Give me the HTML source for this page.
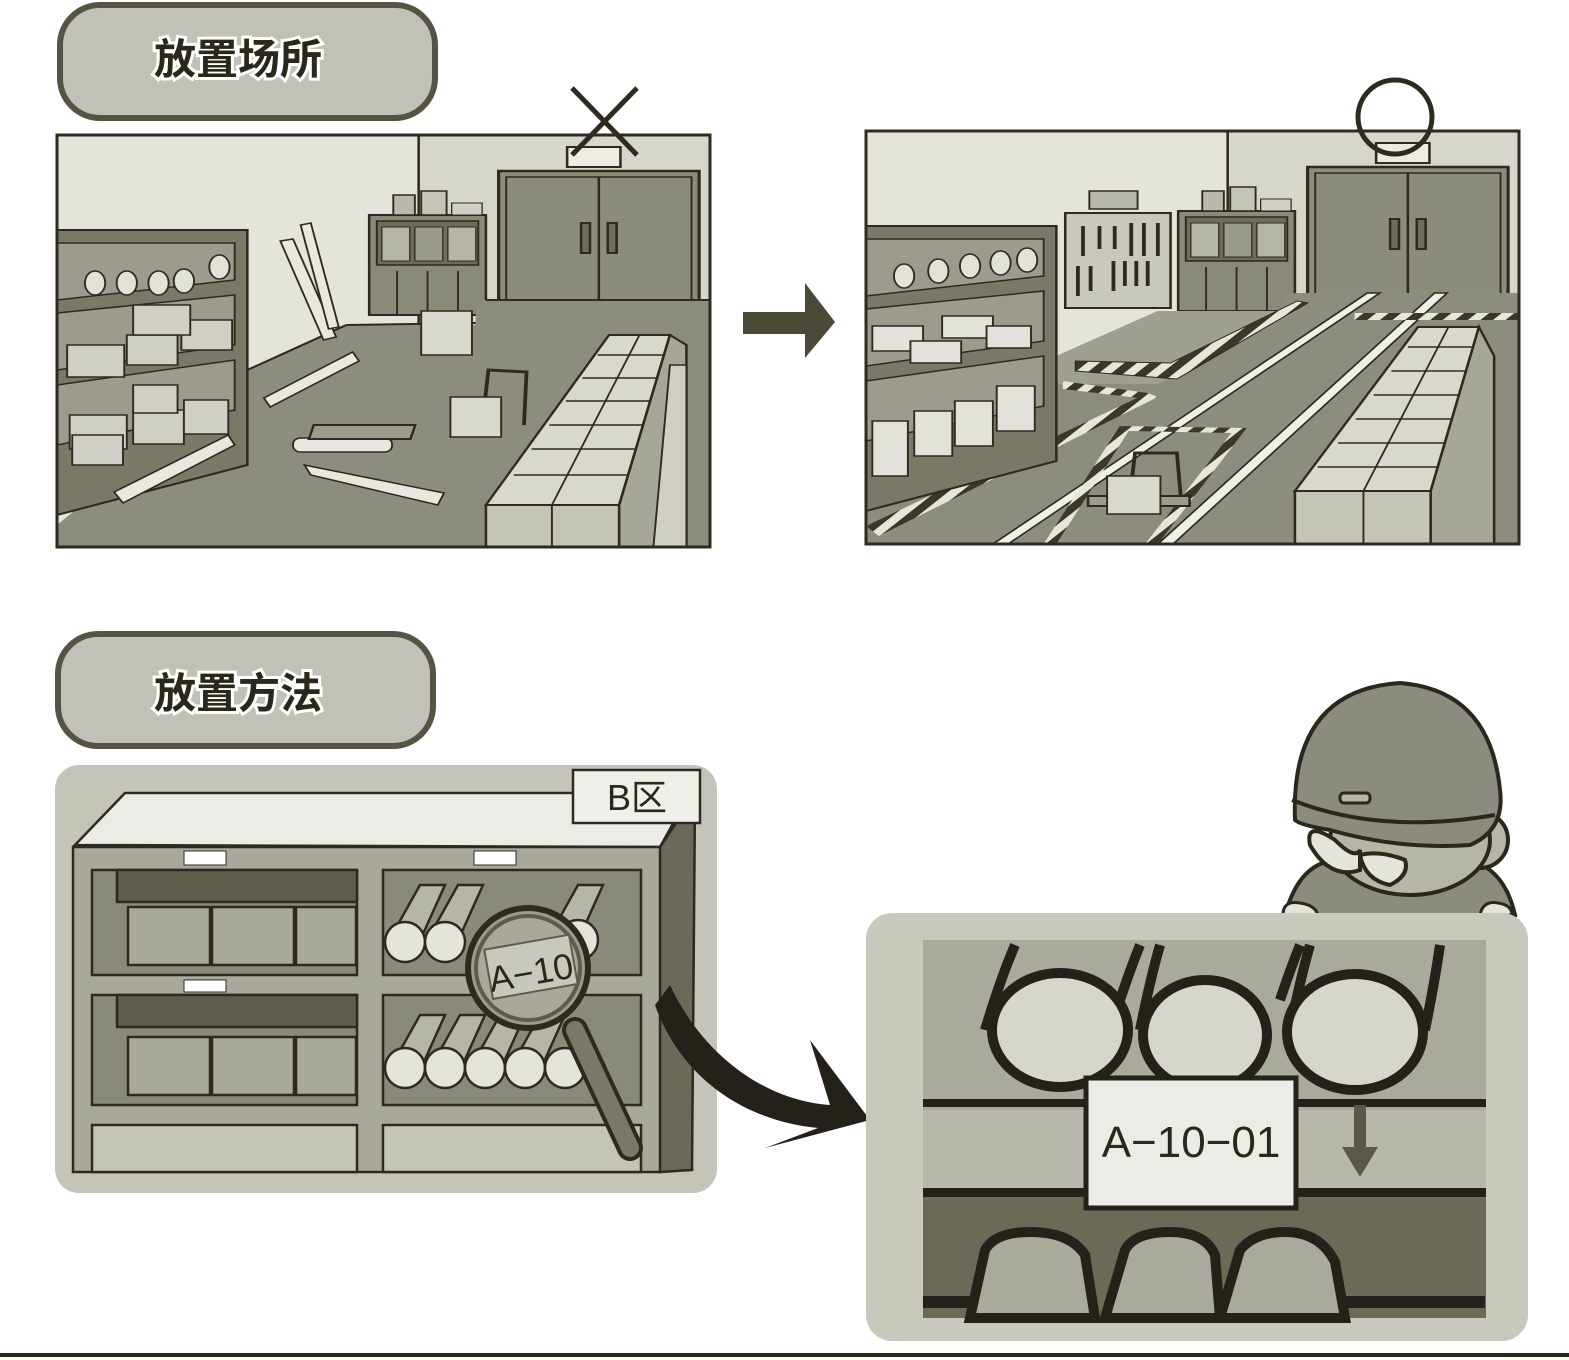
<!DOCTYPE html>
<html><head><meta charset="utf-8"><style>
html,body{margin:0;padding:0;background:#fff;}
svg{display:block}
.t{font-family:"Liberation Sans","Noto Sans CJK SC",sans-serif;}
</style></head><body>
<svg width="1569" height="1360" viewBox="0 0 1569 1360" xmlns="http://www.w3.org/2000/svg">
<defs>
<clipPath id="pc"><rect x="0" y="0" width="653" height="413"/></clipPath>
<pattern id="stripe" width="14" height="14" patternUnits="userSpaceOnUse" patternTransform="rotate(45)">
<rect width="14" height="14" fill="#e6e6dc"/><rect width="7" height="14" fill="#3a3828"/>
</pattern>
<g id="scene">
  <rect x="0" y="0" width="653" height="412" fill="#e4e4dc"/>
  <rect x="285" y="0" width="368" height="412" fill="#d6d6cd"/>
  <line x1="285" y1="0" x2="285" y2="190" stroke="#2e2b1e" stroke-width="2"/>
  <rect x="348" y="36" width="158" height="130" fill="#8c8c7d" stroke="#2e2b1e" stroke-width="2.5"/>
  <rect x="354" y="42" width="146" height="124" fill="#8c8c7d" stroke="#2e2b1e" stroke-width="1.5"/>
  <line x1="427" y1="42" x2="427" y2="166" stroke="#2e2b1e" stroke-width="2"/>
  <rect x="413" y="88" width="7" height="30" fill="#6e6d5c" stroke="#2e2b1e" stroke-width="2"/>
  <rect x="434" y="88" width="7" height="30" fill="#6e6d5c" stroke="#2e2b1e" stroke-width="2"/>
  <rect x="402" y="12" width="42" height="20" fill="#ececE4" stroke="#2e2b1e" stroke-width="2"/>
  <rect x="246" y="80" width="92" height="100" fill="#8a8a7b" stroke="#2e2b1e" stroke-width="2"/>
  <rect x="252" y="86" width="80" height="44" fill="#6e6d5c" stroke="#2e2b1e" stroke-width="1.5"/>
  <rect x="256" y="92" width="22" height="34" fill="#b4b4a8" stroke="#2e2b1e" stroke-width="1"/>
  <rect x="282" y="92" width="22" height="34" fill="#9a9a8c" stroke="#2e2b1e" stroke-width="1"/>
  <rect x="308" y="92" width="22" height="34" fill="#b4b4a8" stroke="#2e2b1e" stroke-width="1"/>
  <line x1="268" y1="136" x2="268" y2="180" stroke="#2e2b1e" stroke-width="1.5"/>
  <line x1="292" y1="136" x2="292" y2="180" stroke="#2e2b1e" stroke-width="1.5"/>
  <line x1="316" y1="136" x2="316" y2="180" stroke="#2e2b1e" stroke-width="1.5"/>
  <rect x="265" y="60" width="17" height="20" fill="#b8b8ac" stroke="#2e2b1e" stroke-width="1.5"/>
  <rect x="287" y="56" width="20" height="24" fill="#c4c4b8" stroke="#2e2b1e" stroke-width="1.5"/>
  <rect x="311" y="68" width="24" height="12" fill="#d0d0c6" stroke="#2e2b1e" stroke-width="1"/>
</g>
<g id="shelf">
  <polygon points="0,95 150,95 150,330 0,380" fill="#7a7968" stroke="#2e2b1e" stroke-width="2"/>
  <polygon points="0,108 140,108 140,145 0,165" fill="#9c9b8d" stroke="#2e2b1e" stroke-width="1.5"/>
  <polygon points="0,178 140,160 140,210 0,235" fill="#9c9b8d" stroke="#2e2b1e" stroke-width="1.5"/>
  <polygon points="0,250 140,225 140,275 0,310" fill="#9c9b8d" stroke="#2e2b1e" stroke-width="1.5"/>
</g>
</defs>

<rect x="60" y="5" width="375" height="113" rx="40" fill="#c1c1b8" stroke="#555443" stroke-width="6"/>
<text x="238" y="74" text-anchor="middle" class="t" font-size="42" font-weight="bold" fill="#2a281a" stroke="#fff" stroke-width="6" paint-order="stroke">放置场所</text>

<!-- Panel 1 -->
<g transform="translate(57,135)">
 <g clip-path="url(#pc)"><g transform="scale(1.269,1)">
  <use href="#scene"/>
  <polygon points="150,235 228,190 330,190 330,165 653,165 653,412 0,412 0,390" fill="#8d8d7f"/>
  <line x1="150" y1="235" x2="228" y2="190" stroke="#2e2b1e" stroke-width="2"/>
  <line x1="228" y1="190" x2="330" y2="188" stroke="#2e2b1e" stroke-width="2"/>
  <line x1="338" y1="165" x2="653" y2="165" stroke="#2e2b1e" stroke-width="2"/>
  <use href="#shelf"/>
  <g fill="#e2e2da" stroke="#2e2b1e" stroke-width="1.5">
   <ellipse cx="30" cy="148" rx="8" ry="12"/><ellipse cx="55" cy="148" rx="8" ry="12"/><ellipse cx="80" cy="148" rx="8" ry="12"/><ellipse cx="100" cy="146" rx="8" ry="12"/><ellipse cx="128" cy="132" rx="8" ry="12"/>
  </g>
  <g fill="#cfcfc5" stroke="#2e2b1e" stroke-width="1.5">
   <rect x="8" y="210" width="45" height="32"/><rect x="55" y="200" width="40" height="30"/><rect x="98" y="185" width="40" height="30"/><rect x="60" y="170" width="45" height="30"/>
   <rect x="10" y="280" width="45" height="34"/><rect x="60" y="275" width="40" height="34"/><rect x="100" y="265" width="35" height="34"/><rect x="12" y="300" width="40" height="30"/><rect x="60" y="250" width="35" height="28"/>
  </g>
  <g fill="#e8e8e0" stroke="#2e2b1e" stroke-width="1.5">
   <polygon points="176,106 186,104 220,202 210,205"/><polygon points="192,90 200,88 222,192 214,194"/>
   <polygon points="163,263 233,217 238,226 168,272"/>
   <rect x="186" y="303" width="78" height="14" rx="6"/>
   <polygon points="195,330 200,340 300,370 305,358"/>
   <polygon points="45,357 52,368 140,310 135,300"/>
  </g>
  <rect x="287" y="176" width="40" height="44" fill="#d8d8ce" stroke="#2e2b1e" stroke-width="1.5"/>
  <rect x="280" y="290" width="80" height="14" fill="#9c9b8d" stroke="#2e2b1e" stroke-width="2" transform="skewX(-15)"/>
  <path d="M335 290 L340 235 L370 237 L368 290" fill="none" stroke="#2e2b1e" stroke-width="3"/>
  <rect x="310" y="262" width="40" height="40" fill="#d8d8ce" stroke="#2e2b1e" stroke-width="1.5"/>
  <polygon points="338,370 435,200 483,200 443,370" fill="#d8d8ce" stroke="#2e2b1e" stroke-width="2"/>
  <rect x="338" y="370" width="105" height="42" fill="#c4c4b8" stroke="#2e2b1e" stroke-width="2"/>
  <polygon points="443,370 483,200 496,210 496,412 443,412" fill="#a6a699" stroke="#2e2b1e" stroke-width="2"/>
  <polygon points="483,230 496,230 496,412 470,412" fill="#cfcfc5" stroke="#2e2b1e" stroke-width="1.5"/>
  <g stroke="#2e2b1e" stroke-width="1.5">
   <line x1="390" y1="370" x2="459" y2="200"/><line x1="390" y1="370" x2="390" y2="412"/>
   <line x1="426" y1="220" x2="478" y2="220"/><line x1="414" y1="243" x2="473" y2="243"/><line x1="401" y1="266" x2="467" y2="266"/><line x1="388" y1="290" x2="462" y2="290"/><line x1="374" y1="314" x2="456" y2="314"/><line x1="360" y1="340" x2="450" y2="340"/>
  </g>
 </g></g>
  <rect x="0" y="0" width="653" height="412" fill="none" stroke="#2e2b1e" stroke-width="3"/>
</g>
<line x1="572" y1="88" x2="637" y2="155" stroke="#2e2b1e" stroke-width="5"/>
<line x1="637" y1="88" x2="572" y2="155" stroke="#2e2b1e" stroke-width="5"/>

<rect x="743" y="312" width="64" height="22" fill="#4a4837"/>
<polygon points="805,283 835,322 805,358" fill="#4a4837"/>

<!-- Panel 2 -->
<g transform="translate(866,131)">
 <g clip-path="url(#pc)"><g transform="scale(1.269,1)">
  <use href="#scene"/>
  <polygon points="150,225 230,180 330,180 330,162 653,162 653,413 0,413 0,380" fill="#8d8d7f"/>
  <polygon points="150,225 230,180 340,180 230,253 150,253" fill="#a0a092" />
  <polygon points="165,230 240,232 340,170 348,172 245,248 165,240" fill="url(#stripe)" stroke="#2e2b1e" stroke-width="1"/>
  <polygon points="155,250 222,262 222,268 155,258" fill="url(#stripe)"/>
  <polygon points="0,395 222,262 230,266 10,405" fill="url(#stripe)"/>
  <polygon points="100,413 395,162 405,162 112,413" fill="#f0f0ea" stroke="#2e2b1e" stroke-width="1.5"/>
  <polygon points="230,413 448,162 458,162 242,413" fill="#f0f0ea" stroke="#2e2b1e" stroke-width="1.5"/>
  <polygon points="200,295 300,297 230,413 220,413 288,302 207,300" fill="url(#stripe)"/>
  <polygon points="200,295 207,300 150,413 140,413" fill="url(#stripe)"/>
  <rect x="385" y="182" width="165" height="7" fill="url(#stripe)"/>
  <use href="#shelf"/>
  <g fill="#e2e2da" stroke="#2e2b1e" stroke-width="1.5">
   <ellipse cx="30" cy="145" rx="8" ry="12"/><ellipse cx="57" cy="140" rx="8" ry="12"/><ellipse cx="82" cy="135" rx="8" ry="12"/><ellipse cx="106" cy="132" rx="8" ry="12"/><ellipse cx="127" cy="129" rx="8" ry="12"/>
   <rect x="5" y="195" width="40" height="25"/><rect x="35" y="210" width="40" height="22"/><rect x="60" y="185" width="40" height="22"/><rect x="95" y="195" width="35" height="22"/>
   <rect x="5" y="290" width="28" height="55"/><rect x="38" y="280" width="30" height="45"/><rect x="70" y="270" width="30" height="45"/><rect x="103" y="255" width="30" height="45"/>
  </g>
  <rect x="176" y="60" width="38" height="18" fill="#b8b8ac" stroke="#2e2b1e" stroke-width="1.5"/>
  <rect x="157" y="82" width="83" height="95" fill="#c8c8be" stroke="#2e2b1e" stroke-width="2"/>
  <g stroke="#2e2b1e" stroke-width="3">
   <line x1="171" y1="95" x2="171" y2="125"/><line x1="184" y1="95" x2="184" y2="118"/><line x1="196" y1="95" x2="196" y2="118"/><line x1="209" y1="92" x2="209" y2="125"/><line x1="219" y1="92" x2="219" y2="125"/><line x1="230" y1="92" x2="230" y2="125"/>
   <line x1="167" y1="135" x2="167" y2="165"/><line x1="177" y1="135" x2="177" y2="160"/><line x1="195" y1="130" x2="195" y2="160"/><line x1="204" y1="130" x2="204" y2="155"/><line x1="213" y1="130" x2="213" y2="155"/><line x1="222" y1="130" x2="222" y2="155"/>
  </g>
  <path d="M208 365 L212 322 L245 322 L248 365" fill="none" stroke="#2e2b1e" stroke-width="3"/>
  <rect x="175" y="365" width="80" height="10" fill="#9c9b8d" stroke="#2e2b1e" stroke-width="2"/>
  <rect x="190" y="345" width="42" height="38" fill="#d8d8ce" stroke="#2e2b1e" stroke-width="1.5"/>
  <polygon points="338,360 435,196 483,196 445,360" fill="#d8d8ce" stroke="#2e2b1e" stroke-width="2"/>
  <rect x="338" y="360" width="107" height="53" fill="#c4c4b8" stroke="#2e2b1e" stroke-width="2"/>
  <polygon points="445,360 483,196 495,225 495,413 445,413" fill="#a6a699" stroke="#2e2b1e" stroke-width="2"/>
  <g stroke="#2e2b1e" stroke-width="1.5">
   <line x1="392" y1="360" x2="459" y2="196"/><line x1="392" y1="360" x2="392" y2="413"/>
   <line x1="427" y1="216" x2="479" y2="216"/><line x1="414" y1="240" x2="473" y2="240"/><line x1="400" y1="264" x2="467" y2="264"/><line x1="386" y1="288" x2="461" y2="288"/><line x1="372" y1="312" x2="456" y2="312"/><line x1="356" y1="336" x2="451" y2="336"/>
  </g>
 </g></g>
  <rect x="0" y="0" width="653" height="413" fill="none" stroke="#2e2b1e" stroke-width="3"/>
</g>
<circle cx="1395" cy="117" r="37" fill="none" stroke="#2e2b1e" stroke-width="5"/>

<rect x="58" y="634" width="375" height="112" rx="40" fill="#c1c1b8" stroke="#555443" stroke-width="6"/>
<text x="238" y="708" text-anchor="middle" class="t" font-size="42" font-weight="bold" fill="#2a281a" stroke="#fff" stroke-width="6" paint-order="stroke">放置方法</text>

<!-- Bottom-left panel -->
<rect x="55" y="765" width="662" height="428" rx="24" fill="#c4c4b9"/>
<g stroke="#2e2b1e" stroke-width="2.5">
  <polygon points="75,845 125,793 690,793 660,847" fill="#ececE6"/>
  <polygon points="660,847 695,795 692,1170 660,1172" fill="#6b6a58"/>
  <rect x="73" y="847" width="587" height="325" fill="#a8a89b"/>
  <rect x="92" y="870" width="265" height="105" fill="#8a8a7b"/>
  <rect x="383" y="870" width="258" height="105" fill="#8a8a7b"/>
  <rect x="92" y="995" width="265" height="110" fill="#8a8a7b"/>
  <rect x="383" y="995" width="258" height="110" fill="#8a8a7b"/>
  <rect x="92" y="1125" width="265" height="47" fill="#c4c4b9"/>
  <rect x="383" y="1125" width="258" height="47" fill="#c4c4b9"/>
  <rect x="117" y="870" width="240" height="32" fill="#5e5d4c"/>
  <rect x="117" y="995" width="240" height="32" fill="#5e5d4c"/>
  <g fill="#a8a89b">
    <rect x="128" y="907" width="82" height="58"/><rect x="212" y="907" width="82" height="58"/><rect x="296" y="907" width="60" height="58"/>
    <rect x="128" y="1037" width="82" height="58"/><rect x="212" y="1037" width="82" height="58"/><rect x="296" y="1037" width="60" height="58"/>
  </g>
  <g fill="#b5b5a8">
    <polygon points="392,935 420,885 445,885 418,945"/><polygon points="430,935 458,885 483,885 456,945"/><polygon points="550,935 578,885 603,885 576,945"/>
    <polygon points="392,1065 420,1015 445,1015 418,1075"/><polygon points="432,1065 460,1015 485,1015 458,1075"/><polygon points="472,1065 500,1015 525,1015 498,1075"/><polygon points="512,1065 540,1015 565,1015 538,1075"/>
  </g>
  <g fill="#e4e4dc">
    <circle cx="405" cy="942" r="20"/><circle cx="445" cy="942" r="20"/><circle cx="578" cy="940" r="20"/>
    <circle cx="405" cy="1068" r="20"/><circle cx="445" cy="1068" r="20"/><circle cx="485" cy="1068" r="20"/><circle cx="525" cy="1068" r="20"/><circle cx="565" cy="1068" r="20"/>
  </g>
</g>
<rect x="184" y="851" width="42" height="14" fill="#fff" stroke="#2e2b1e" stroke-width="1"/>
<rect x="474" y="851" width="42" height="14" fill="#fff" stroke="#2e2b1e" stroke-width="1"/>
<rect x="184" y="980" width="42" height="12" fill="#fff" stroke="#2e2b1e" stroke-width="1"/>
<rect x="573" y="770" width="127" height="53" fill="#f0f0ea" stroke="#2e2b1e" stroke-width="2.5"/>
<text x="637" y="810" text-anchor="middle" class="t" font-size="36" fill="#2a281a">B区</text>
<line x1="575" y1="1030" x2="630" y2="1148" stroke="#2e2b1e" stroke-width="26" stroke-linecap="round"/>
<line x1="575" y1="1030" x2="630" y2="1148" stroke="#7a7968" stroke-width="18" stroke-linecap="round"/>
<circle cx="528" cy="968" r="60" fill="#9c9b8e" stroke="#2e2b1e" stroke-width="6"/>
<circle cx="528" cy="968" r="52" fill="#a9a89b" stroke="#5e5d4c" stroke-width="4"/>
<rect x="488" y="942" width="86" height="50" fill="#c8c8be" stroke="#5e5d4c" stroke-width="2" transform="rotate(-10 530 967)"/>
<text x="530" y="985" text-anchor="middle" class="t" font-size="36" fill="#2a281a" transform="rotate(-10 530 967)">A−10</text>
<path d="M655 1005 L670 985 C700 1050 760 1100 830 1105 L810 1040 L870 1120 L765 1148 L818 1128 C740 1120 680 1075 655 1005 Z" fill="#23211a"/>

<!-- Character -->
<g stroke="#2a281a" stroke-width="4">
  <path d="M1285 915 Q1300 860 1340 860 L1470 860 Q1505 870 1515 915 Z" fill="#8c8c7e"/>
  <circle cx="1480" cy="840" r="28" fill="#b5b5a8"/>
  <ellipse cx="1410" cy="840" rx="80" ry="55" fill="#b5b5a8"/>
  <path d="M1310 845 Q1305 820 1335 840 Q1355 860 1360 850 L1360 870 Q1330 880 1310 845 Z" fill="#e4e4dc"/>
  <path d="M1360 855 Q1380 850 1405 860 Q1410 875 1390 885 Q1365 880 1360 855 Z" fill="#e4e4dc"/>
  <path d="M1295 820 Q1290 690 1400 683 Q1490 690 1500 790 Q1505 830 1470 845 Q1400 850 1330 830 Q1300 825 1295 820 Z" fill="#8c8c7e"/>
  <path d="M1292 800 Q1380 835 1495 815" fill="none"/>
  <rect x="1340" y="793" width="30" height="10" rx="4" fill="#b5b5a8" stroke-width="3"/>
  <path d="M1283 915 Q1283 900 1300 903 Q1315 905 1318 915 Z" fill="#e4e4dc" stroke-width="3"/>
  <path d="M1480 915 Q1483 900 1498 903 Q1512 905 1512 915 Z" fill="#e4e4dc" stroke-width="3"/>
</g>

<!-- Bottom-right panel -->
<rect x="866" y="913" width="662" height="428" rx="26" fill="#c8c8bd"/>
<rect x="923" y="940" width="563" height="378" fill="#a9a99c"/>
<rect x="923" y="1110" width="563" height="80" fill="#b7b7aa"/>
<rect x="923" y="1195" width="563" height="123" fill="#6b6a56"/>
<g stroke="#23211a" stroke-width="10" fill="#d6d6cc">
  <path d="M985 1030 Q1000 980 1015 945" fill="none"/>
  <path d="M1140 1030 Q1150 980 1160 945" fill="none"/>
  <path d="M1290 1030 Q1300 980 1310 945" fill="none"/>
  <path d="M1120 1000 Q1130 970 1140 945" fill="none"/>
  <path d="M1280 1000 Q1290 970 1300 945" fill="none"/>
  <path d="M1425 1030 Q1435 980 1440 945" fill="none"/>
  <ellipse cx="1060" cy="1030" rx="68" ry="57"/>
  <ellipse cx="1205" cy="1035" rx="62" ry="55"/>
  <ellipse cx="1355" cy="1032" rx="68" ry="58"/>
  <path d="M970 1318 L985 1250 Q995 1232 1030 1232 Q1070 1232 1085 1255 L1095 1318 Z" fill="#a9a99c"/>
  <path d="M1105 1318 L1125 1250 Q1135 1232 1170 1232 Q1205 1232 1215 1255 L1220 1318 Z" fill="#a9a99c"/>
  <path d="M1220 1318 L1240 1250 Q1255 1232 1285 1232 Q1320 1232 1335 1262 L1345 1318 Z" fill="#a9a99c"/>
</g>
<rect x="923" y="1296" width="50" height="12" fill="#23211a"/>
<rect x="1345" y="1296" width="140" height="12" fill="#23211a"/>
<rect x="923" y="1099" width="563" height="8" fill="#23211a"/>
<rect x="923" y="1188" width="563" height="9" fill="#23211a"/>
<rect x="1086" y="1078" width="210" height="130" fill="#ececE6" stroke="#23211a" stroke-width="5"/>
<text x="1191" y="1157" text-anchor="middle" class="t" font-size="44" fill="#2a281a">A−10−01</text>
<rect x="1354" y="1105" width="12" height="45" fill="#5a5946"/>
<polygon points="1342,1147 1378,1147 1360,1177" fill="#5a5946"/>

<rect x="0" y="1353" width="1569" height="4" fill="#2a281a"/>
</svg>
</body></html>
